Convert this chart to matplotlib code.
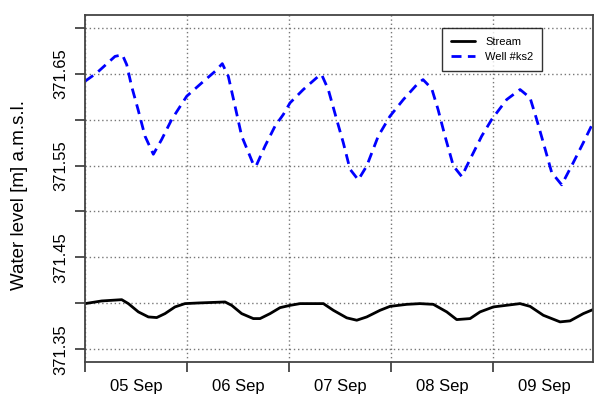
import matplotlib
matplotlib.use("Agg")
import matplotlib.pyplot as plt
import numpy as np
from matplotlib.ticker import FixedLocator, FuncFormatter

plt.rcParams['font.family'] = ['Liberation Sans', 'DejaVu Sans']

# time in days since 05 Sep 00:00
well_t = [0.000, 0.115, 0.294, 0.366, 0.409, 0.457, 0.520, 0.588, 0.670, 0.752,
          0.850, 0.997, 1.144, 1.275, 1.346, 1.405, 1.471, 1.536, 1.650, 1.676,
          1.765, 1.863, 1.944, 2.010, 2.140, 2.287, 2.320, 2.385, 2.467, 2.532,
          2.598, 2.679, 2.762, 2.875, 2.990, 3.121, 3.268, 3.314, 3.399, 3.461,
          3.529, 3.611, 3.693, 3.775, 3.889, 3.987, 4.134, 4.265, 4.363, 4.428,
          4.493, 4.575, 4.673, 4.787, 4.885, 4.980]
well_v = [371.6418, 371.6509, 371.6689, 371.6707, 371.6599, 371.6363, 371.6111, 371.5821, 371.5623, 371.5785,
          371.6002, 371.6255, 371.6400, 371.6526, 371.6610, 371.6472, 371.6146, 371.5821, 371.5514, 371.5492,
          371.5713, 371.5930, 371.6056, 371.6183, 371.6328, 371.6472, 371.6490, 371.6328, 371.6002, 371.5749,
          371.5460, 371.5344, 371.5496, 371.5821, 371.6038, 371.6219, 371.6400, 371.6436, 371.6338, 371.6111,
          371.5821, 371.5496, 371.5381, 371.5568, 371.5821, 371.6002, 371.6219, 371.6328, 371.6238, 371.6002,
          371.5749, 371.5424, 371.5290, 371.5533, 371.5749, 371.5966]

stream_t = [0.000, 0.164, 0.360, 0.425, 0.523, 0.621, 0.703, 0.784, 0.882, 0.980,
            1.111, 1.373, 1.438, 1.536, 1.650, 1.716, 1.814, 1.912, 2.010, 2.108,
            2.337, 2.435, 2.566, 2.664, 2.762, 2.892, 2.990, 3.154, 3.284, 3.415,
            3.546, 3.644, 3.775, 3.873, 4.004, 4.265, 4.363, 4.493, 4.657, 4.755,
            4.885, 4.980]
stream_v = [371.3996, 371.4025, 371.4039, 371.3996, 371.3906, 371.3851, 371.3844, 371.3887, 371.3960, 371.3996,
            371.4003, 371.4014, 371.3977, 371.3887, 371.3833, 371.3833, 371.3887, 371.3952, 371.3977, 371.3996,
            371.3996, 371.3923, 371.3841, 371.3815, 371.3851, 371.3923, 371.3966, 371.3988, 371.3996, 371.3988,
            371.3906, 371.3822, 371.3833, 371.3906, 371.3960, 371.3996, 371.3966, 371.3869, 371.3797, 371.3808,
            371.3887, 371.3931]

day_ticks = [0, 1, 2, 3, 4]
day_labels = ["05 Sep", "06 Sep", "07 Sep", "08 Sep", "09 Sep"]
y_ticks = [371.35, 371.40, 371.45, 371.50, 371.55, 371.60, 371.65, 371.70]
y_labels = ["371.35", "", "371.45", "", "371.55", "", "371.65", ""]

fig = plt.figure(figsize=(5.95, 4.01), dpi=100)
ax = fig.add_axes([85/595, 39/401, 508/595, 347/401])

frame_col = "#444444"
ax.grid(True, which='major', color="#777777", linestyle=(0, (1, 2)), linewidth=1.0)
ax.set_axisbelow(True)

ax.plot(stream_t, stream_v, color="black", linewidth=2.0, label="Stream",
        solid_capstyle='round', solid_joinstyle='round')
ax.plot(well_t, well_v, color="#0000ff", linewidth=2.0, dashes=(3.6, 2.3), label="Well #ks2",
        dash_joinstyle='round')

ax.set_xlim(0, 4.98)
ax.set_ylim(371.336, 371.714)

ax.xaxis.set_major_locator(FixedLocator(day_ticks))
ax.xaxis.set_major_formatter(FuncFormatter(lambda v, p: ""))
ax.set_xticks([d + 0.5 for d in day_ticks], day_labels, minor=True)
ax.tick_params(axis='x', which='minor', length=0, pad=12, labelsize=12)
ax.tick_params(axis='x', which='major', length=7, width=1.3, color=frame_col, direction='out')

ax.set_yticks(y_ticks, y_labels)
ax.tick_params(axis='y', which='major', length=7, width=1.3, color=frame_col, direction='out',
               pad=5, labelsize=12)
for lab in ax.get_yticklabels():
    lab.set_rotation(90)
    lab.set_va('center')

for s in ax.spines.values():
    s.set_color(frame_col)
    s.set_linewidth(1.3)

fig.text(20/595, 1 - 195/401, "Water level [m] a.m.s.l.", rotation=90,
         ha='center', va='center', fontsize=13.5)

leg = ax.legend(loc='upper left', bbox_to_anchor=(0.7028, 0.9625), borderaxespad=0,
                fontsize=8, frameon=True, fancybox=False, edgecolor="black",
                handlelength=2.2, borderpad=0.8, labelspacing=0.45, handletextpad=0.9)
leg.get_frame().set_linewidth(1.0)

fig.savefig("out.png", dpi=100)
